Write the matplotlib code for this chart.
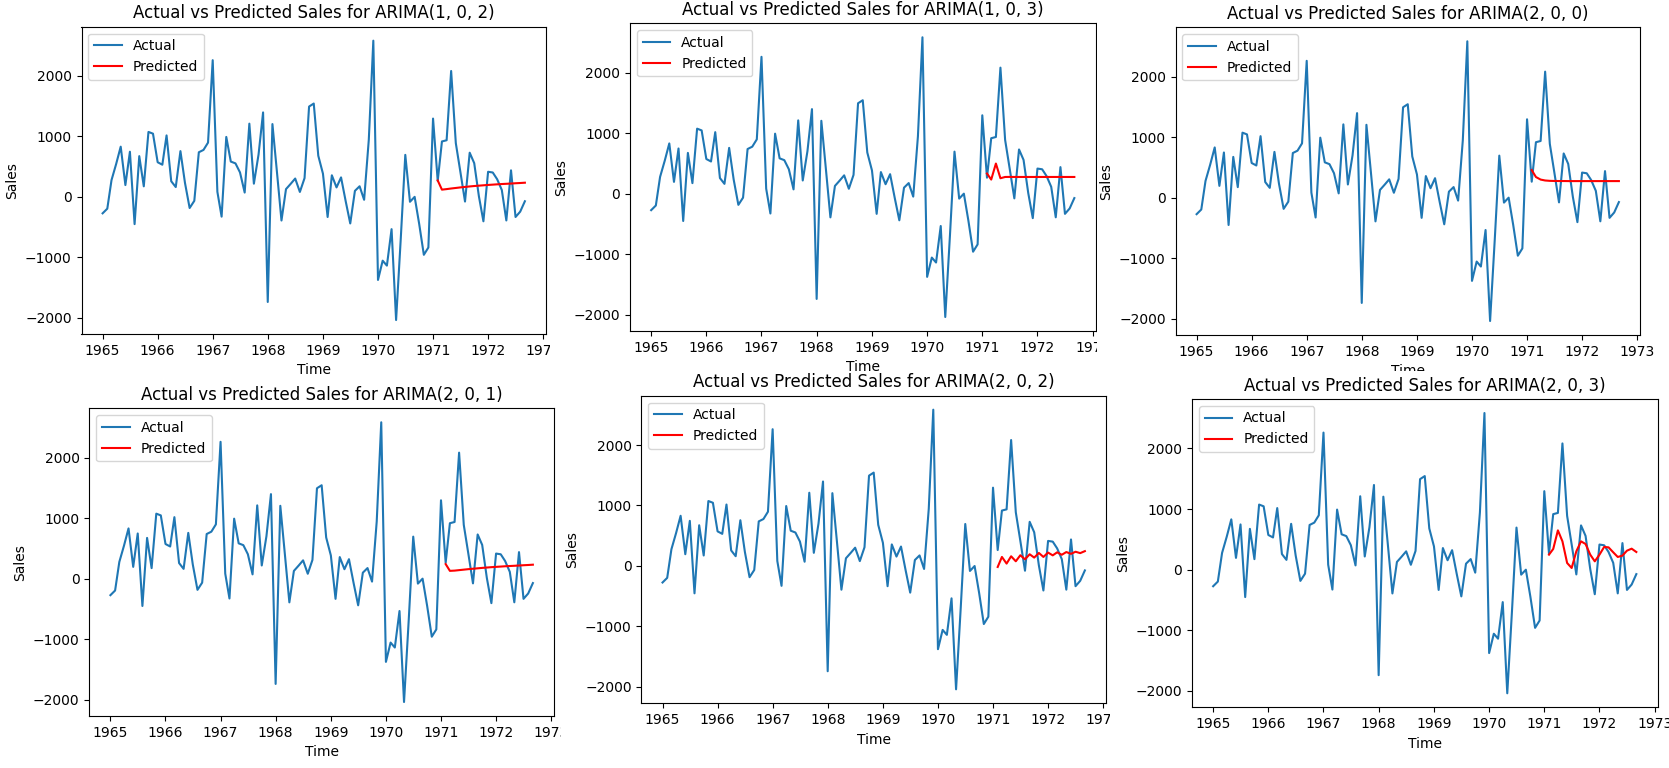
# Actual vs predicted sales, six ARIMA orders pasted into one picture
import pandas as pd
import matplotlib
matplotlib.use("Agg")
import matplotlib.pyplot as plt
from matplotlib.patches import Rectangle

# seasonal first difference of monthly sales, 1965-01 .. 1972-09
dates = pd.date_range("1965-01-01", periods=93, freq="MS")
actual = [
    -274, -197, 276, 545, 830, 194, 746, -453, 673, 173, 1074, 1045,
    572, 531, 1016, 257, 161, 756, 232, -186, -67, 737, 776, 897,
    2262, 82, -329, 991, 583, 553, 403, 70, 1211, 217, 700, 1397,
    -1742, 1204, 436, -393, 127, 214, 302, 80, 309, 1494, 1544, 680,
    383, -335, 356, 155, 321, -76, -442, 98, 174, -50, 945, 2585,
    -1377, -1058, -1140, -536, -2041, -691, 694, -83, -1, -448, -961, -840,
    1295, 263, 916, 936, 2083, 888, 416, -79, 730, 557, 9, -406,
    414, 402, 291, 112, -392, 438, -335, -246, -74,
]

# forecasts, 1971-02 .. 1972-09
pred_dates = pd.date_range("1971-02-01", periods=20, freq="MS")
orders = ["(1, 0, 2)", "(1, 0, 3)", "(2, 0, 0)", "(2, 0, 1)", "(2, 0, 2)", "(2, 0, 3)"]
pred_102 = [270, 118, 127, 137, 146, 155, 163, 171, 178, 184, 190, 196, 201, 206, 211, 215, 219, 224, 228, 233]
pred_103 = [332, 232, 497, 254, 275, 276, 275, 275, 275, 275, 275, 275, 275, 275, 275, 275, 275, 275, 275, 275]
pred_200 = [455, 340, 298, 283, 277, 275, 274, 274, 273, 273, 273, 273, 273, 273, 273, 273, 273, 273, 273, 273]
pred_201 = [240, 128, 132, 140, 148, 156, 163, 170, 177, 183, 189, 194, 199, 204, 208, 212, 216, 221, 225, 230]
pred_202 = [-17, 149, 39, 160, 77, 177, 110, 193, 138, 215, 149, 221, 175, 225, 185, 230, 200, 235, 212, 245]
pred_203 = [247, 341, 648, 467, 110, 27, 302, 467, 423, 247, 137, 247, 374, 368, 286, 209, 231, 313, 346, 291]
preds = [pred_102, pred_103, pred_200, pred_201, pred_202, pred_203]

W, H = 1669, 768
# axes box (left, top, right, bottom) in pixels, and the patch of canvas each picture covers
boxes = [
    (81.5, 26.7, 546, 334),
    (630, 23.3, 1095.5, 331),
    (1175.5, 27.3, 1640, 335),
    (89.3, 408.3, 554, 716),
    (641.4, 395.7, 1106, 703.3),
    (1192, 399, 1657.5, 707.3),
]
covers = [
    (0, 0, 550, 377),
    (550, 0, 1097, 375),
    (1097, 0, 1669, 371),
    (0, 377, 561, 768),
    (561, 375, 1110, 768),
    (1110, 371, 1669, 768),
]

fig = plt.figure(figsize=(W / 100, H / 100), dpi=100)
for i in range(6):
    cl, ct, cr, cb = covers[i]
    fig.add_artist(Rectangle((cl / W, 1 - cb / H), (cr - cl) / W, (cb - ct) / H,
                             transform=fig.transFigure, facecolor="white",
                             edgecolor="none", zorder=2 * i))
    l, t, r, b = boxes[i]
    ax = fig.add_axes([l / W, 1 - b / H, (r - l) / W, (b - t) / H])
    ax.set_zorder(2 * i + 1)
    ax.plot(dates, actual, label="Actual")
    ax.plot(pred_dates, preds[i], color="red", label="Predicted")
    ax.set_title(f"Actual vs Predicted Sales for ARIMA{orders[i]}")
    ax.set_xlabel("Time")
    ax.set_ylabel("Sales")
    ax.legend(loc="upper left")

fig.savefig("out.png", dpi=100)
